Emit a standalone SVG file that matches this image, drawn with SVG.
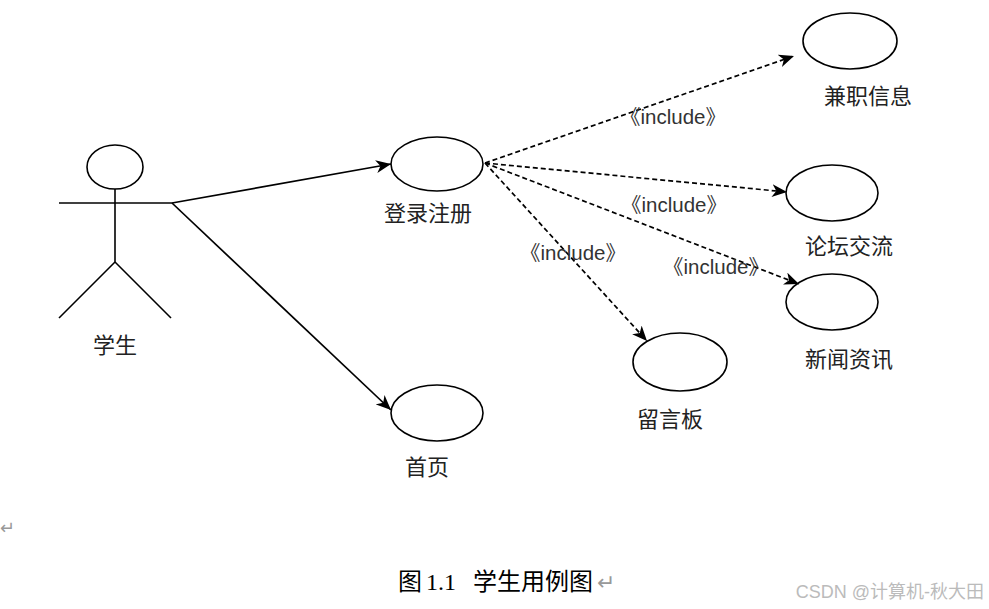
<svg xmlns="http://www.w3.org/2000/svg" width="989" height="609" viewBox="0 0 989 609">
<style>
.uc{fill:#fff;stroke:#000;stroke-width:1.6}
.lbl{font-family:"Liberation Sans","Noto Sans CJK SC",sans-serif;font-size:22px;fill:#222;text-anchor:middle}
.inc{font-family:"Liberation Sans","Noto Sans CJK SC",sans-serif;font-size:20.5px;fill:#333;text-anchor:middle}
.solid{fill:none;stroke:#000;stroke-width:1.7}
.dash{fill:none;stroke:#000;stroke-width:1.7;stroke-dasharray:5 3}
.actor{fill:none;stroke:#000;stroke-width:1.6}
</style>
<defs>
<marker id="arr" viewBox="0 0 14 12" refX="14" refY="6" markerWidth="15" markerHeight="13" markerUnits="userSpaceOnUse" orient="auto">
<path d="M0,0 L14,6 L0,12 L4,6 z" fill="#000"/>
</marker>
</defs>
<rect width="989" height="609" fill="#fff"/>
<g id="actor">
<ellipse class="actor" cx="115" cy="167" rx="28" ry="22"/>
<line class="actor" x1="115" y1="189" x2="115" y2="262"/>
<line class="actor" x1="59" y1="203" x2="172" y2="203"/>
<line class="actor" x1="115" y1="262" x2="59" y2="318"/>
<line class="actor" x1="115" y1="262" x2="171" y2="318"/>
<text class="lbl" x="115" y="353">学生</text>
</g>
<g id="login">
<ellipse class="uc" cx="437" cy="164" rx="46" ry="27"/>
<text class="lbl" x="428" y="221">登录注册</text>
</g>
<g id="home">
<ellipse class="uc" cx="437" cy="413" rx="46" ry="28"/>
<text class="lbl" x="427" y="475">首页</text>
</g>
<g id="parttime">
<ellipse class="uc" cx="850" cy="41" rx="47" ry="28"/>
<text class="lbl" x="868" y="104">兼职信息</text>
</g>
<g id="forum">
<ellipse class="uc" cx="832" cy="193" rx="46" ry="28"/>
<text class="lbl" x="849" y="254">论坛交流</text>
</g>
<g id="news">
<ellipse class="uc" cx="832" cy="302" rx="46" ry="28"/>
<text class="lbl" x="849" y="367">新闻资讯</text>
</g>
<g id="board">
<ellipse class="uc" cx="680" cy="362" rx="47" ry="29"/>
<text class="lbl" x="670" y="427">留言板</text>
</g>
<g id="connectors">
<line class="solid" x1="172" y1="203" x2="391" y2="164" marker-end="url(#arr)"/>
<line class="solid" x1="172" y1="203" x2="391" y2="410" marker-end="url(#arr)"/>
<line class="dash" x1="485" y1="163" x2="794" y2="56" marker-end="url(#arr)"/>
<line class="dash" x1="485" y1="163" x2="787" y2="192" marker-end="url(#arr)"/>
<line class="dash" x1="485" y1="163" x2="799" y2="284" marker-end="url(#arr)"/>
<line class="dash" x1="485" y1="163" x2="647" y2="341" marker-end="url(#arr)"/>
<text class="inc" x="673" y="124">《include》</text>
<text class="inc" x="674" y="212">《include》</text>
<text class="inc" x="573" y="260">《include》</text>
<text class="inc" x="716" y="274">《include》</text>
</g>
<g id="caption">
<text x="0" y="534" font-family="Liberation Sans,sans-serif" font-size="18" fill="#999">↵</text>
<text y="590" font-family="'Liberation Serif','Noto Sans CJK SC',serif" font-size="24" fill="#000"><tspan x="398">图</tspan><tspan x="426">1.1</tspan><tspan x="473">学生用例图</tspan><tspan x="597" fill="#999" font-size="22">↵</tspan></text>
<text x="984" y="598" text-anchor="end" font-family="'Liberation Sans','Noto Sans CJK SC',sans-serif" font-size="18" fill="#bbb">CSDN @计算机-秋大田</text>
</g>
</svg>
